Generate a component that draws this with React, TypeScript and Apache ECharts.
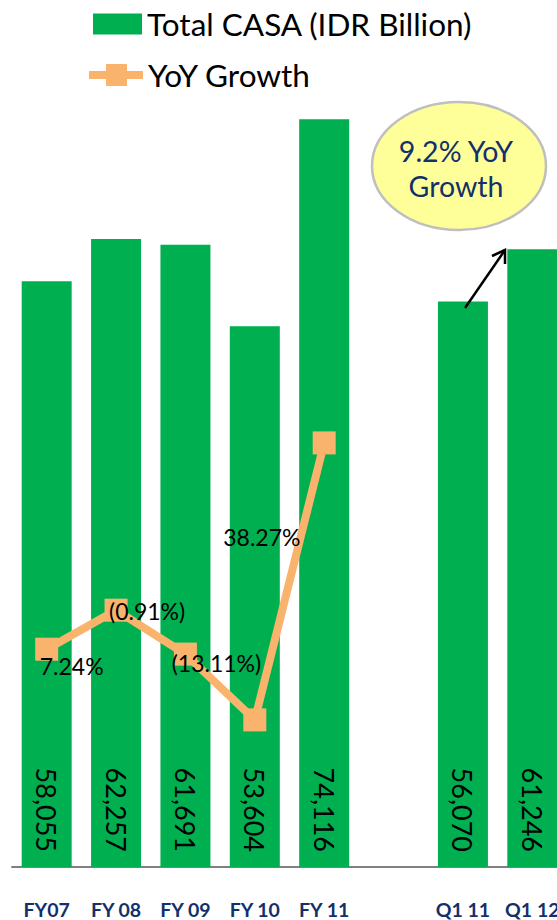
import { useEffect, useRef } from 'react';
import * as echarts from 'echarts';

const categories = ['FY07', 'FY 08', 'FY 09', 'FY 10', 'FY 11', '', 'Q1 11', 'Q1 12'];
const casaValues: (number | null)[] = [58055, 62257, 61691, 53604, 74116, null, 56070, 61246];
const growthValues: (number | null)[] = [0, 7.24, -0.91, -13.11, 38.27, null, null, null];
const casaName = 'Total CASA (IDR Billion)';
const growthName = 'YoY Growth';
const calloutText = '9.2% YoY\nGrowth';

// label offsets (style): each point shows the growth label of the next period
const labelOffsets: [number, number][] = [[25, 17], [31, 1], [31, 9], [7, -183]];

const GREEN = '#00B050';
const ORANGE = '#FAB36C';
const NAVY = '#13306A';
const FONT = 'Lato, "Noto Sans", sans-serif';

const fmtGrowth = (v: number) => (v < 0 ? `(${Math.abs(v).toFixed(2)}%)` : `${v.toFixed(2)}%`);

export default function App() {
  const ref = useRef<HTMLDivElement>(null);
  useEffect(() => {
    const chart = echarts.init(ref.current!, undefined, { renderer: 'svg' });
    const lineData = growthValues.map((v, i) => {
      if (v === null) return '-';
      const next = growthValues[i + 1];
      const off = labelOffsets[i];
      if (next === null || next === undefined || !off) return { value: v, label: { show: false } };
      return {
        value: v,
        label: { show: true, position: 'inside', offset: off, formatter: () => fmtGrowth(next) },
      };
    });
    chart.setOption({
      animation: false,
      textStyle: { fontFamily: FONT },
      legend: [
        {
          data: [{ name: casaName, icon: 'rect' }],
          left: 88,
          top: 3,
          itemWidth: 49,
          itemHeight: 21,
          selectedMode: false,
          textStyle: { fontSize: 31.5, color: '#000', fontFamily: FONT },
        },
        {
          data: [{ name: growthName, icon: 'path://M0,7 h54 v8 h-54 z M17,0 h21 v22 h-21 z' }],
          left: 84,
          top: 54,
          itemWidth: 54,
          itemHeight: 22,
          selectedMode: false,
          textStyle: { fontSize: 31.5, color: '#000', fontFamily: FONT },
        },
      ],
      grid: { left: 12, width: 555, top: 60, bottom: 53, containLabel: false },
      xAxis: {
        type: 'category',
        data: categories,
        axisLine: { show: true, lineStyle: { color: '#808080', width: 2 } },
        axisTick: { show: false },
        axisLabel: {
          interval: 0,
          margin: 32,
          fontSize: 19.5,
          fontWeight: 'bold',
          color: NAVY,
          fontFamily: FONT,
        },
      },
      yAxis: [
        { type: 'value', min: 0, max: 80000, show: false, splitLine: { show: false } },
        { type: 'value', min: -40.4, max: 109.3, show: false, splitLine: { show: false } },
      ],
      series: [
        {
          name: casaName,
          type: 'bar',
          data: casaValues.map((v) => (v === null ? '-' : v)),
          barWidth: 50,
          itemStyle: { color: GREEN },
          label: {
            show: true,
            position: 'insideBottom',
            distance: 15,
            rotate: -90,
            align: 'right',
            verticalAlign: 'middle',
            fontSize: 27,
            color: '#000',
            fontFamily: FONT,
            formatter: (p: any) => Number(p.value).toLocaleString('en-US'),
          },
        },
        {
          name: growthName,
          type: 'line',
          yAxisIndex: 1,
          data: lineData,
          symbol: 'rect',
          symbolSize: 23,
          lineStyle: { color: ORANGE, width: 8 },
          itemStyle: { color: ORANGE },
          label: { fontSize: 23, color: '#000', fontFamily: FONT },
          z: 5,
        },
      ],
      graphic: [
        {
          type: 'ellipse',
          shape: { cx: 459, cy: 166, rx: 87, ry: 64 },
          style: { fill: '#FFFF99', stroke: '#BFBFBF', lineWidth: 2.5 },
          z: 10,
        },
        {
          type: 'text',
          x: 456,
          y: 168,
          style: {
            text: calloutText,
            fill: NAVY,
            fontSize: 28.5,
            lineHeight: 35,
            fontFamily: FONT,
            align: 'center',
            verticalAlign: 'middle',
          },
          z: 11,
        },
        {
          type: 'line',
          shape: { x1: 465, y1: 308, x2: 505, y2: 250 },
          style: { stroke: '#000', lineWidth: 2.5 },
          z: 10,
        },
        {
          type: 'polyline',
          shape: { points: [[492, 256], [505, 250], [505, 264]] },
          style: { stroke: '#000', lineWidth: 2.5, fill: 'none' },
          z: 10,
        },
      ],
    });
    return () => chart.dispose();
  }, []);
  return (
    <div style={{ position: 'absolute', left: 0, top: 0, width: 557, height: 920, overflow: 'hidden' }}>
      <div ref={ref} style={{ width: 590, height: 920 }} />
    </div>
  );
}
